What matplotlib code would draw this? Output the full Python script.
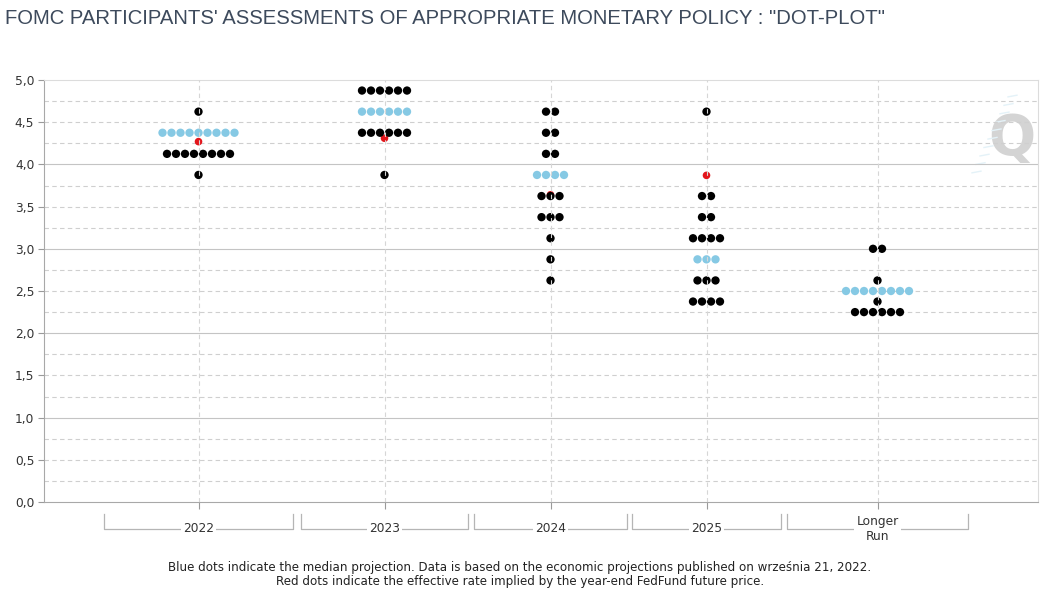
import numpy as np
import matplotlib.pyplot as plt
from matplotlib.ticker import MultipleLocator, FuncFormatter

# categorias do eixo x e os "brackets" (em px da figura original)
anos = ['2022', '2023', '2024', '2025', 'Longer\nRun']
brackets = [(104, 293), (301, 468), (474, 627), (632, 781), (787, 968)]

# niveis de juros e numero de participantes em cada nivel
niveis_2022 = [4.625, 4.375, 4.125, 3.875]
votos_2022 = [1, 9, 8, 1]
niveis_2023 = [4.875, 4.625, 4.375, 3.875]
votos_2023 = [6, 6, 6, 1]
niveis_2024 = [4.625, 4.375, 4.125, 3.875, 3.625, 3.375, 3.125, 2.875, 2.625]
votos_2024 = [2, 2, 2, 4, 3, 3, 1, 1, 1]
niveis_2025 = [4.625, 3.625, 3.375, 3.125, 2.875, 2.625, 2.375]
votos_2025 = [1, 2, 2, 4, 3, 3, 4]
niveis_lr = [3.0, 2.625, 2.5, 2.375, 2.25]
votos_lr = [2, 1, 8, 1, 6]

medianas = [4.375, 4.625, 3.875, 2.875, 2.5]
futuros = [4.27, 4.31, 3.64, 3.87]  # taxa implicita nos futuros (pontos vermelhos)

niveis = [niveis_2022, niveis_2023, niveis_2024, niveis_2025, niveis_lr]
votos = [votos_2022, votos_2023, votos_2024, votos_2025, votos_lr]

azul = '#86c9e4'
vermelho = '#e3151b'

fig = plt.figure(figsize=(10.48, 5.93), dpi=100)
ax = fig.add_axes([44/1048, 1 - 502/593, (1038 - 44)/1048, (502 - 80)/593])

centros = [(a + b) / 2 for a, b in brackets]
passo = 9

for c, nv, vt, med in zip(centros, niveis, votos, medianas):
    for y, n in zip(nv, vt):
        xs = c + (np.arange(n) - (n - 1) / 2) * passo
        cor = azul if y == med else 'black'
        ax.scatter(xs, [y] * n, s=36, color=cor, edgecolors='none', zorder=3)

for c, f in zip(centros, futuros):
    ax.scatter(c, f, s=30, color=vermelho, edgecolors='none', zorder=2)

# grade: solida nos inteiros, tracejada a cada 0,25
for y in np.arange(0.25, 5.0, 0.25):
    if y % 1 == 0:
        ax.axhline(y, color='#c4c4c4', lw=0.8, zorder=1)
    else:
        ax.axhline(y, color='#cfcfcf', lw=0.8, ls=(0, (4, 3)), zorder=1)

# linhas verticais das categorias (por cima dos pontos)
for c in centros:
    ax.axvline(c, color='#d6d6d6', lw=0.8, ls=(0, (4, 3)), zorder=4)

ax.set_xlim(44, 1038)
ax.set_ylim(0, 5)
ax.yaxis.set_major_locator(MultipleLocator(0.5))
ax.yaxis.set_major_formatter(FuncFormatter(lambda v, p: f'{v:.1f}'.replace('.', ',')))
ax.tick_params(axis='y', length=4, color='#9a9a9a', labelsize=8.8, labelcolor='#333333', pad=3)
ax.set_xticks(centros)
ax.set_xticklabels([])
ax.tick_params(axis='x', length=5, color='#9a9a9a')

for lado in ['top', 'right']:
    ax.spines[lado].set_color('#dcdcdc')
    ax.spines[lado].set_linewidth(0.8)
for lado in ['left', 'bottom']:
    ax.spines[lado].set_color('#a8a8a8')
    ax.spines[lado].set_linewidth(0.8)

# brackets e rotulos do eixo x
tr = ax.get_xaxis_transform()
y0 = -(514 - 502) / 422
y1 = -(529 - 502) / 422
for (a, b), c, nome in zip(brackets, centros, anos):
    ax.plot([a, a, b, b], [y0, y1, y1, y0], color='#b5b5b5', lw=0.9,
            transform=tr, clip_on=False)
    ax.text(c, y1, nome, transform=tr, ha='center', va='center', fontsize=8.8,
            color='#333333', linespacing=1.1,
            bbox=dict(facecolor='white', edgecolor='none', pad=1.5))

# marca d'agua
ax.text(1012, 4.3, 'Q', fontsize=40, fontweight='bold', color='#d4d4d4',
        ha='center', va='center', zorder=0)
for i in range(10):
    yy = 3.9 + i * 0.1
    xx = 972 + i * 4
    ax.plot([xx, xx + 9], [yy, yy + 0.02], color='#e4f2f8', lw=1.0, zorder=0)

fig.text(5/1048, 1 - 18/593,
         'FOMC PARTICIPANTS\' ASSESSMENTS OF APPROPRIATE MONETARY POLICY : "DOT-PLOT"',
         fontsize=14.6, color='#3d4a5c', va='center', family='Liberation Sans')
fig.text(520/1048, 1 - 567/593,
         'Blue dots indicate the median projection. Data is based on the economic projections published on września 21, 2022.',
         fontsize=8.6, color='#222222', ha='center', va='center')
fig.text(520/1048, 1 - 582/593,
         'Red dots indicate the effective rate implied by the year-end FedFund future price.',
         fontsize=8.6, color='#222222', ha='center', va='center')

plt.savefig('out.png', dpi=100)
